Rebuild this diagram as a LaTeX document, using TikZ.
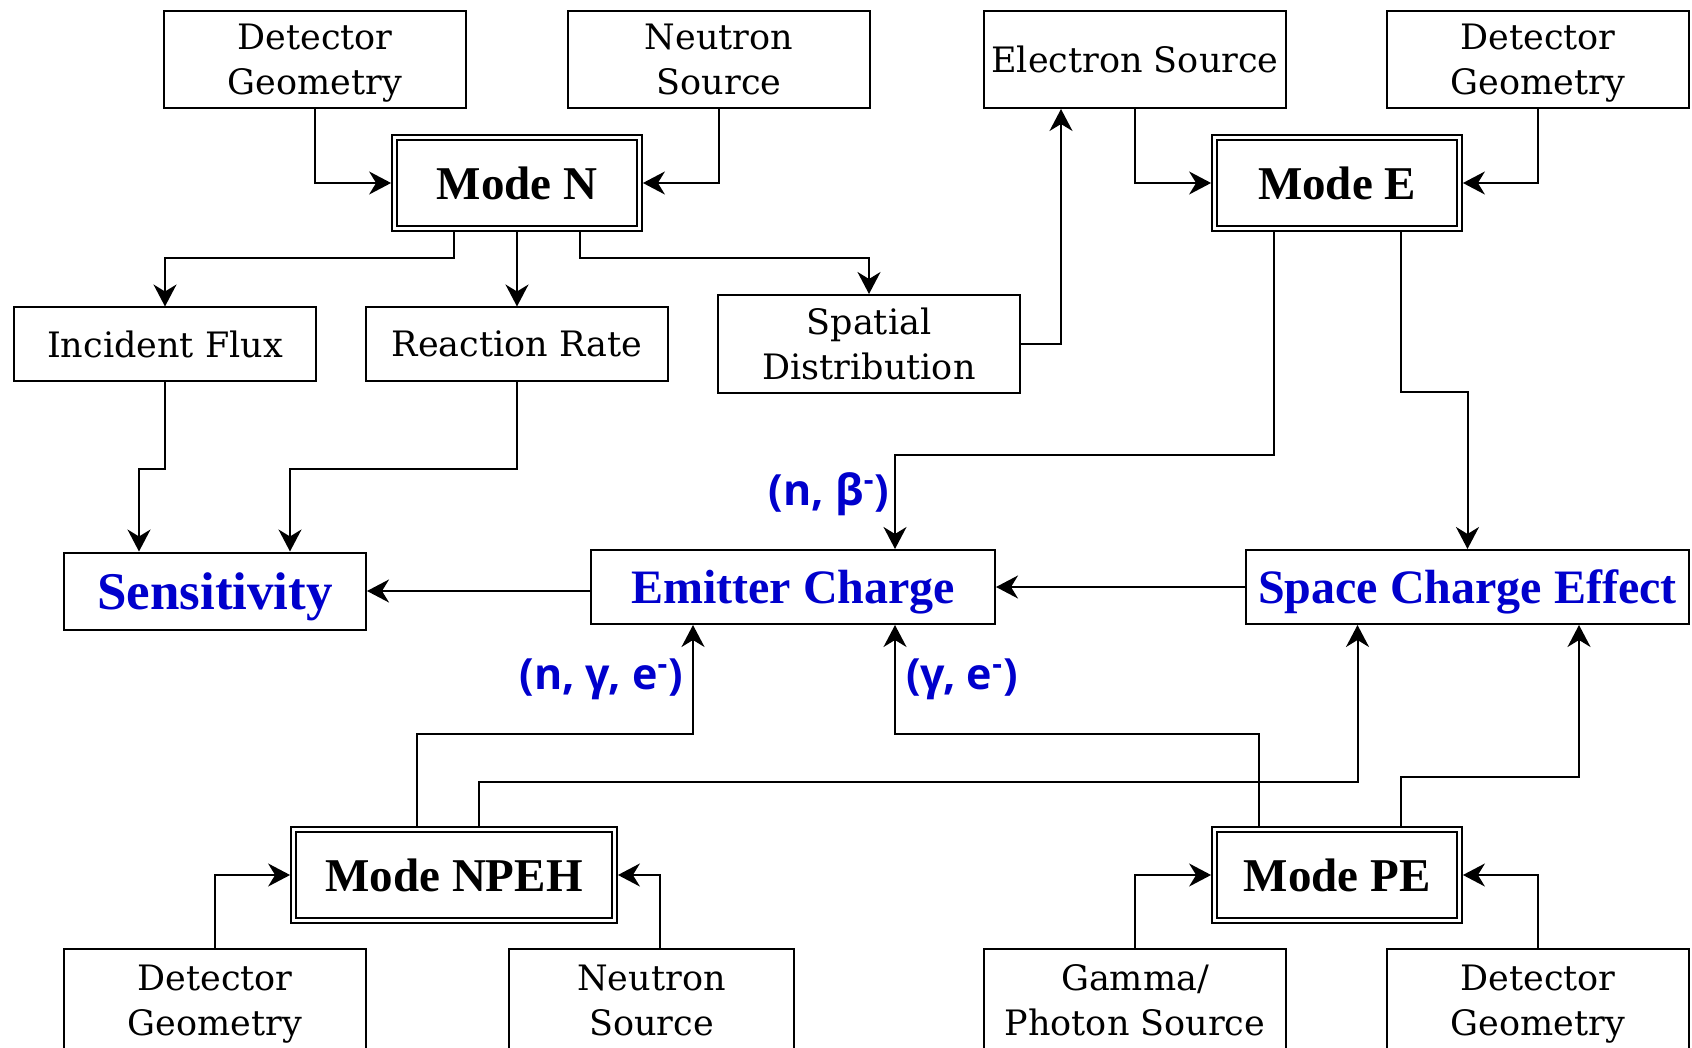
\documentclass[tikz,border=0pt]{standalone}
\usepackage{fontspec}
\setmainfont{DejaVu Serif}
\newfontfamily\timesbf{Liberation Serif}
\newfontfamily\labelsf{Open Sans}
\usepackage{tikz}
\usetikzlibrary{arrows.meta,calc,positioning}
\definecolor{outblue}{RGB}{0,0,204}

\begin{document}
\begin{tikzpicture}[x=0.5pt,y=-0.5pt,>={Stealth[length=11pt,width=11.5pt,inset=3.5pt]},
    line width=1pt,
    box/.style={draw,align=center,inner sep=0pt,text depth=0pt,minimum width=151pt,
      minimum height=48.5pt,font=\fontsize{17.5}{22.5}\selectfont},
    modebox/.style={draw,double,line width=1pt,double distance=1.4pt,outer sep=1.7pt,
      minimum width=122.5pt,minimum height=45.5pt,inner sep=0pt,
      font=\timesbf\bfseries\fontsize{23.5}{28}\selectfont},
    outbox/.style={draw,inner sep=0pt,text depth=0pt,minimum height=37pt,text=outblue,
      font=\timesbf\bfseries\fontsize{24}{28}\selectfont},
    rxn/.style={text=outblue,inner sep=0pt,font=\labelsf\bfseries\fontsize{21.5}{26}\selectfont}]
  \clip (0,0) rectangle (1692,1048);
  \node[box] (dgA) at (315,59.5) {Detector\\Geometry};
  \node[box] (nsA) at (719,59.5) {Neutron\\Source};
  \node[box] (esrc) at (1135,59.5) {Electron Source};
  \node[box] (dgB) at (1538,59.5) {Detector\\Geometry};
  \node[modebox] (modeN) at (517,183) {Mode N};
  \node[modebox] (modeE) at (1337,183) {Mode E};
  \node[box,minimum height=36.5pt] (flux) at (165,344) {Incident Flux};
  \node[box,minimum height=36.5pt] (rate) at (517,344) {Reaction Rate};
  \node[box,minimum height=49pt] (spatial) at (869,344) {Spatial\\Distribution};
  \node[outbox,minimum width=151pt,minimum height=38.5pt,
    font=\timesbf\bfseries\fontsize{26.5}{30}\selectfont] (sens) at (215,591) {Sensitivity};
  \node[outbox,minimum width=202pt] (emit) at (793,587) {Emitter Charge};
  \node[outbox,minimum width=221.5pt] (sce) at (1467.5,587) {Space Charge Effect};
  \node[modebox,minimum width=160.5pt] (modeNPEH) at (454,875) {Mode NPEH};
  \node[modebox] (modePE) at (1337,875) {Mode PE};
  \node[box,minimum height=52pt] (dgC) at (215,1000.5) {Detector\\Geometry};
  \node[box,minimum width=142.5pt,minimum height=52pt] (nsB) at (651.5,1000.5) {Neutron\\Source};
  \node[box,minimum height=52pt] (gsrc) at (1135,1000.5) {Gamma/\\Photon Source};
  \node[box,minimum height=52pt] (dgD) at (1538,1000.5) {Detector\\Geometry};
  \node[rxn,anchor=east] (nbeta) at (890,494) {(n, β\textsuperscript{-})};
  \node[rxn,anchor=east] (ngamma) at (684,679) {(n, γ, e\textsuperscript{-})};
  \node[rxn,anchor=west] (gammae) at (905,679) {(γ, e\textsuperscript{-})};
  \draw[->] (dgA) |- (modeN);
  \draw[->] (nsA) |- (modeN);
  \draw[->] ([xshift=-31.5pt]modeN.south) -- ++(0,26) -| (flux);
  \draw[->] (modeN) -- (rate);
  \draw[->] ([xshift=31.5pt]modeN.south) -- ++(0,26) -| (spatial);
  \draw[->] (spatial) -| ([xshift=-37pt]esrc.south);
  \draw[->] (esrc) |- (modeE);
  \draw[->] (dgB) |- (modeE);
  \draw[->] ([xshift=-31.5pt]modeE.south) -- ++(0,223) -| ([xshift=51pt]emit.north);
  \draw[->] ([xshift=32pt]modeE.south) -- ++(0,160) -| (sce);
  \draw[->] (flux.south) -- ++(0,87) -| ([xshift=-38pt]sens.north);
  \draw[->] (rate.south) -- ++(0,87) -| ([xshift=37.5pt]sens.north);
  \draw[->] (emit.west |- sens) -- (sens);
  \draw[->] (sce) -- (emit);
  \draw[->] ([xshift=-18.75pt]modeNPEH.north) -- ++(0,-92) -| ([xshift=-50pt]emit.south);
  \draw[->] ([xshift=12.5pt]modeNPEH.north) -- ++(0,-44) -| ([xshift=-55pt]sce.south);
  \draw[->] ([xshift=-39pt]modePE.north) -- ++(0,-92) -| ([xshift=51pt]emit.south);
  \draw[->] ([xshift=32pt]modePE.north) -- ++(0,-49) -| ([xshift=55.75pt]sce.south);
  \draw[->] (dgC) |- (modeNPEH);
  \draw[->] ([xshift=4.25pt]nsB.north) |- (modeNPEH);
  \draw[->] (gsrc) |- (modePE);
  \draw[->] (dgD) |- (modePE);
\end{tikzpicture}
\end{document}
